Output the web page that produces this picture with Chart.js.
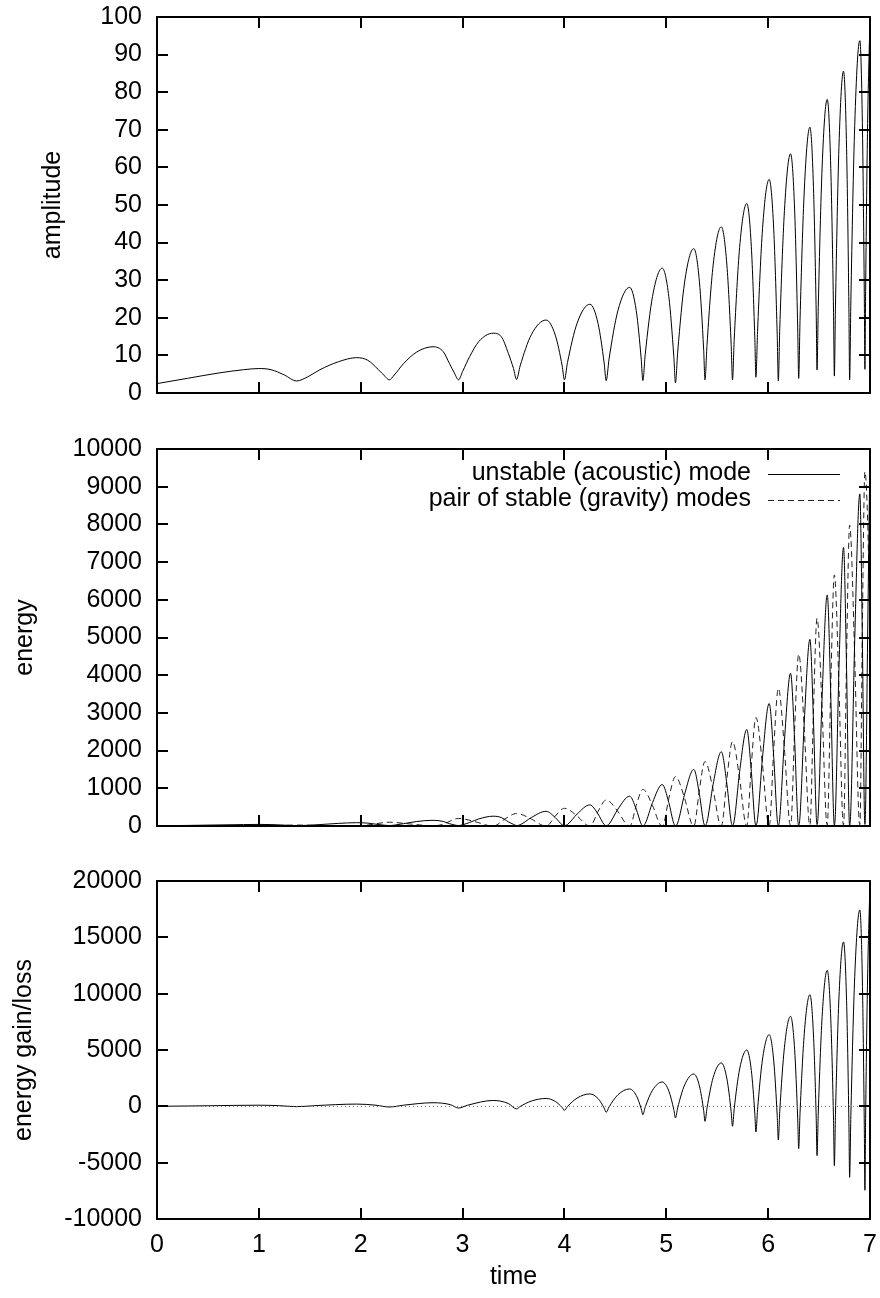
<!DOCTYPE html>
<html>
<head>
<meta charset="utf-8">
<script src="https://cdn.jsdelivr.net/npm/chart.js@4.4.1/dist/chart.umd.min.js"></script>
<style>
  html, body { margin: 0; padding: 0; background: #fff; }
  #wrap { position: relative; width: 880px; height: 1298px; }
  canvas { position: absolute; left: 0; }
</style>
</head>
<body>
<div id="wrap">
  <canvas id="ampChart" width="880" height="430" style="top:0"></canvas>
  <canvas id="energyChart" width="880" height="430" style="top:430px"></canvas>
  <canvas id="gainChart" width="880" height="438" style="top:860px"></canvas>
</div>
<script>
// tick values for each axis
const timeTicks = [0, 1, 2, 3, 4, 5, 6, 7];
const ampTicks = [0, 10, 20, 30, 40, 50, 60, 70, 80, 90, 100];
const energyTicks = [0, 1000, 2000, 3000, 4000, 5000, 6000, 7000, 8000, 9000, 10000];
const gainTicks = [-10000, -5000, 0, 5000, 10000, 15000, 20000];

const seriesLabels = ['unstable (acoustic) mode', 'pair of stable (gravity) modes'];

// sample times for the acoustic mode (amplitude and its energy share them)
const ampTime = [0, 0.3, 0.6, 0.85, 1.0, 1.12, 1.25,
  1.37, 1.48, 1.6, 1.78, 1.96, 2.07, 2.17, 2.24,
  2.28, 2.33, 2.42, 2.55, 2.71, 2.81, 2.87, 2.92,
  2.96, 3.0, 3.07, 3.16, 3.30, 3.38, 3.45, 3.5,
  3.53, 3.565, 3.675, 3.82, 3.91, 3.978,
  4.00, 4.03, 4.125, 4.25, 4.33, 4.39,
  4.41, 4.438, 4.525, 4.64, 4.705, 4.754,
  4.77, 4.793, 4.865, 4.96, 5.025, 5.074,
  5.09, 5.112, 5.18, 5.27, 5.325, 5.367,
  5.38, 5.40, 5.46, 5.54, 5.595, 5.637,
  5.65, 5.667, 5.72, 5.79, 5.835, 5.869,
  5.88, 5.896, 5.945, 6.01, 6.055, 6.089,
  6.10, 6.114, 6.16, 6.22, 6.26, 6.29,
  6.30, 6.313, 6.355, 6.41, 6.445, 6.472,
  6.48, 6.492, 6.53, 6.58, 6.615, 6.642,
  6.65, 6.661, 6.695, 6.74, 6.77, 6.793,
  6.80, 6.812, 6.85, 6.90, 6.925, 6.944,
  6.95, 6.957, 6.975, 7.0];

const amplitude = [2.5, 3.9, 5.3, 6.2, 6.5, 6.2, 4.8,
  3.2, 4.3, 6.2, 8.3, 9.4, 8.7, 6.3, 4.4,
  3.5, 4.8, 7.8, 10.9, 12.3, 11.0, 7.9, 5.3,
  3.5, 5.7, 9.7, 13.7, 15.9, 15.0, 10.5, 6.5,
  3.6, 7.2, 15.5, 19.4, 15.4, 7.2,
  3.5, 8.1, 18.6, 23.6, 18.5, 8.0,
  3.3, 9.0, 21.9, 28.1, 21.9, 9.0,
  3.3, 10.2, 25.7, 33.2, 25.6, 9.7,
  2.7, 10.9, 29.5, 38.4, 29.7, 11.5,
  3.5, 12.9, 34.0, 44.2, 34.0, 12.9,
  3.5, 14.3, 38.7, 50.4, 38.9, 14.8,
  4.2, 16.3, 43.7, 56.8, 43.4, 15.5,
  3.2, 17.1, 48.5, 63.6, 48.7, 17.6,
  3.9, 19.3, 54.0, 70.7, 54.6, 21.0,
  6.1, 22.7, 60.1, 78.1, 59.7, 21.4,
  4.5, 23.2, 65.3, 85.6, 65.1, 22.4,
  3.5, 24.2, 71.2, 93.7, 71.9, 26.4,
  6.3, 27, 69, 100];

const energyUnstable = [6, 15, 28, 38, 42, 38, 23,
  10, 18, 38, 69, 88, 76, 40, 19,
  12, 23, 61, 119, 151, 121, 62, 28,
  12, 32, 94, 188, 260, 225, 110, 42,
  13, 32, 224, 390, 224, 31,
  12, 39, 319, 560, 318, 38,
  11, 50, 447, 790, 447, 50,
  11, 65, 621, 1100, 619, 62,
  7, 82, 843, 1500, 845, 86,
  12, 110, 1108, 1970, 1108, 110,
  12, 139, 1439, 2560, 1442, 145,
  18, 180, 1828, 3250, 1824, 172,
  10, 212, 2272, 4050, 2275, 217,
  15, 262, 2779, 4950, 2788, 283,
  37, 342, 3449, 6130, 3442, 326,
  20, 389, 4147, 7390, 4144, 381,
  12, 452, 4939, 8810, 4951, 479,
  40, 530, 4600, 10000];

// the gravity pair
const pairTime = [0, 0.5, 1.0, 1.15, 1.37, 1.65,
  1.96, 2.08, 2.28, 2.5,
  2.71, 2.8, 2.96, 3.13, 3.26,
  3.30, 3.328, 3.415, 3.53, 3.675, 3.785,
  3.82, 3.842, 3.91, 4.00, 4.125, 4.22,
  4.25, 4.269, 4.33, 4.41, 4.525, 4.612,
  4.64, 4.656, 4.705, 4.77, 4.865, 4.937,
  4.96, 4.976, 5.025, 5.09, 5.18, 5.248,
  5.27, 5.283, 5.325, 5.38, 5.46, 5.521,
  5.54, 5.553, 5.595, 5.65, 5.72, 5.773,
  5.79, 5.80, 5.835, 5.88, 5.945, 5.994,
  6.01, 6.021, 6.055, 6.10, 6.16, 6.206,
  6.22, 6.23, 6.26, 6.30, 6.355, 6.397,
  6.41, 6.418, 6.445, 6.48, 6.53, 6.568,
  6.58, 6.588, 6.615, 6.65, 6.695, 6.729,
  6.74, 6.747, 6.77, 6.80, 6.85, 6.888,
  6.90, 6.906, 6.925, 6.95, 6.975, 7.0];

const energyPair = [8, 6, 2, 8, 25, 10,
  2, 30, 100, 50,
  3, 40, 200, 110, 10,
  5, 17, 185, 330, 185, 17,
  4, 24, 263, 470, 263, 24,
  5, 35, 386, 690, 386, 35,
  6, 49, 543, 970, 543, 49,
  7, 66, 734, 1310, 734, 66,
  8, 86, 958, 1710, 958, 86,
  10, 112, 1254, 2240, 1254, 112,
  12, 144, 1613, 2880, 1613, 144,
  15, 183, 2044, 3650, 2044, 183,
  18, 228, 2554, 4560, 2554, 228,
  22, 276, 3086, 5510, 3086, 276,
  26, 333, 3730, 6660, 3730, 333,
  30, 399, 4469, 7980, 4469, 399,
  35, 470, 5264, 9400, 8260, 5300];

// energy gained / lost by the acoustic mode
const gainTime = [0, 0.5, 1.0, 1.2,
  1.37, 1.55, 1.96, 2.15,
  2.28, 2.42, 2.71, 2.88,
  2.96, 3.05, 3.30, 3.45,
  3.53, 3.565, 3.675, 3.82, 3.91, 3.978,
  4.00, 4.03, 4.125, 4.25, 4.33, 4.39,
  4.41, 4.438, 4.525, 4.64, 4.705, 4.754,
  4.77, 4.793, 4.865, 4.96, 5.025, 5.074,
  5.09, 5.112, 5.18, 5.27, 5.325, 5.367,
  5.38, 5.40, 5.46, 5.54, 5.595, 5.637,
  5.65, 5.667, 5.72, 5.79, 5.835, 5.869,
  5.88, 5.896, 5.945, 6.01, 6.055, 6.089,
  6.10, 6.114, 6.16, 6.22, 6.26, 6.29,
  6.30, 6.313, 6.355, 6.41, 6.445, 6.472,
  6.48, 6.492, 6.53, 6.58, 6.615, 6.642,
  6.65, 6.661, 6.695, 6.74, 6.77, 6.793,
  6.80, 6.812, 6.85, 6.90, 6.925, 6.944,
  6.95, 6.957, 6.975, 7.0];

const energyGain = [0, 50, 100, 60,
  -30, 60, 200, 100,
  -60, 100, 320, 150,
  -150, 100, 520, 250,
  -230, -16, 467, 700, 437, -109,
  -350, -16, 737, 1100, 692, -155,
  -530, -54, 1022, 1540, 970, -216,
  -740, -73, 1435, 2160, 1362, -296,
  -1030, -133, 1895, 2870, 1820, -364,
  -1330, -139, 2555, 3850, 2445, -477,
  -1770, -213, 3308, 5000, 3180, -606,
  -2280, -293, 4200, 6360, 4023, -839,
  -2990, -465, 5245, 7990, 5053, -1057,
  -3760, -616, 6493, 9910, 6338, -1093,
  -4380, -597, 7958, 12070, 7735, -1282,
  -5270, -702, 9625, 14590, 9368, -1495,
  -6300, -842, 11498, 17430, 11210, -1728,
  -7450, -1100, 10700, 20000];

const zeroTime = [0, 7];
const zeroLevel = [0, 0];

const FAMILY = '"Liberation Sans", Arial, Helvetica, sans-serif';
const FONT = { family: FAMILY, size: 25 };
const TICK = 11;

Chart.defaults.color = '#000';
Chart.defaults.font.family = FAMILY;

const pts = (xs, ys) => xs.map((x, i) => ({ x: x, y: ys[i] }));

// keep the plot boxes where they are put, whatever the label sizes
function noScalePadding(s) {
  s.paddingTop = 0;
  s.paddingBottom = 0;
  s.paddingLeft = 0;
  s.paddingRight = 0;
}

// gnuplot style box with inward ticks on all four sides
const framePlugin = {
  id: 'frame',
  afterDraw(chart, args, opts) {
    const { ctx, chartArea: a } = chart;
    const x = chart.scales.x, y = chart.scales.y;
    ctx.save();
    ctx.strokeStyle = '#000';
    ctx.lineWidth = 2;
    ctx.beginPath();
    opts.xTicks.forEach(v => {
      const px = Math.round(x.getPixelForValue(v));
      if (px <= a.left + 1 || px >= a.right - 1) return;
      ctx.moveTo(px, a.bottom); ctx.lineTo(px, a.bottom - TICK);
      ctx.moveTo(px, a.top); ctx.lineTo(px, a.top + TICK);
    });
    opts.yTicks.forEach(v => {
      const py = Math.round(y.getPixelForValue(v));
      if (py <= a.top + 1 || py >= a.bottom - 1) return;
      ctx.moveTo(a.left, py); ctx.lineTo(a.left + TICK, py);
      ctx.moveTo(a.right, py); ctx.lineTo(a.right - TICK, py);
    });
    ctx.stroke();
    ctx.strokeRect(a.left, a.top, a.right - a.left, a.bottom - a.top);
    ctx.restore();
  }
};

// key in the top right corner: text first, line sample after it
const keyPlugin = {
  id: 'key',
  afterDraw(chart, args, opts) {
    const ctx = chart.ctx;
    ctx.save();
    ctx.font = '25px ' + FAMILY;
    ctx.textAlign = 'right';
    ctx.textBaseline = 'middle';
    ctx.fillStyle = '#000';
    chart.data.datasets.forEach((ds, i) => {
      const yy = opts.top + i * opts.rowHeight;
      ctx.fillText(ds.label, opts.textRight, yy);
      ctx.strokeStyle = ds.borderColor;
      ctx.lineWidth = ds.borderWidth;
      ctx.setLineDash(ds.borderDash || []);
      ctx.beginPath();
      ctx.moveTo(opts.lineLeft, yy + 1.5);
      ctx.lineTo(opts.lineRight, yy + 1.5);
      ctx.stroke();
    });
    ctx.restore();
  }
};

function yAxis(ticks, title, titlePad) {
  return {
    type: 'linear',
    min: ticks[0],
    max: ticks[ticks.length - 1],
    afterBuildTicks: s => { s.ticks = ticks.map(v => ({ value: v })); },
    afterFit: s => { s.width = 157; noScalePadding(s); },
    grid: { display: false, drawTicks: false },
    border: { display: false },
    ticks: { font: FONT, color: '#000', padding: 15, autoSkip: false, callback: v => String(v) },
    title: { display: true, text: title, color: '#000', font: { family: FAMILY, size: 25, lineHeight: 1 },
             padding: { top: titlePad, bottom: 0 } }
  };
}

const hiddenTime = { type: 'linear', min: 0, max: 7, display: false };

function line(data, extra) {
  return Object.assign({
    data: data,
    borderColor: '#000',
    borderWidth: 1,
    pointRadius: 0,
    fill: false,
    cubicInterpolationMode: 'monotone'
  }, extra || {});
}

const common = {
  responsive: false,
  animation: false,
  events: [],
};

new Chart(document.getElementById('ampChart'), {
  type: 'line',
  data: { datasets: [line(pts(ampTime, amplitude), { label: 'amplitude' })] },
  options: Object.assign({}, common, {
    layout: { padding: { top: 17, bottom: 37, left: 0, right: 10 } },
    scales: { x: hiddenTime, y: yAxis(ampTicks, 'amplitude', 41) },
    plugins: {
      legend: { display: false }, tooltip: { enabled: false },
      frame: { xTicks: timeTicks, yTicks: ampTicks }
    }
  }),
  plugins: [framePlugin]
});

new Chart(document.getElementById('energyChart'), {
  type: 'line',
  data: {
    datasets: [
      line(pts(ampTime, energyUnstable), { label: seriesLabels[0] }),
      line(pts(pairTime, energyPair), { label: seriesLabels[1], borderColor: '#222', borderDash: [6, 4] })
    ]
  },
  options: Object.assign({}, common, {
    layout: { padding: { top: 19, bottom: 34, left: 0, right: 10 } },
    scales: { x: hiddenTime, y: yAxis(energyTicks, 'energy', 13) },
    plugins: {
      legend: { display: false }, tooltip: { enabled: false },
      frame: { xTicks: timeTicks, yTicks: energyTicks },
      key: { top: 43, rowHeight: 26, textRight: 751, lineLeft: 768, lineRight: 840 }
    }
  }),
  plugins: [framePlugin, keyPlugin]
});

new Chart(document.getElementById('gainChart'), {
  type: 'line',
  data: {
    datasets: [
      line(pts(zeroTime, zeroLevel), { borderColor: '#666', borderDash: [1, 3], cubicInterpolationMode: 'default' }),
      line(pts(gainTime, energyGain), { label: 'energy gain/loss' })
    ]
  },
  options: Object.assign({}, common, {
    layout: { padding: { top: 21, bottom: 0, left: 0, right: 10 } },
    scales: {
      x: {
        type: 'linear', min: 0, max: 7,
        afterBuildTicks: s => { s.ticks = timeTicks.map(v => ({ value: v })); },
        afterFit: s => { s.height = 79; noScalePadding(s); },
        grid: { display: false, drawTicks: false },
        border: { display: false },
        ticks: { font: FONT, color: '#000', padding: 11, maxRotation: 0, autoSkip: false, callback: v => String(v) },
        title: { display: true, text: 'time', color: '#000', font: FONT, padding: { top: 0, bottom: 6 } }
      },
      y: yAxis(gainTicks, 'energy gain/loss', 12)
    },
    plugins: {
      legend: { display: false }, tooltip: { enabled: false },
      frame: { xTicks: timeTicks, yTicks: gainTicks }
    }
  }),
  plugins: [framePlugin]
});
</script>
</body>
</html>
